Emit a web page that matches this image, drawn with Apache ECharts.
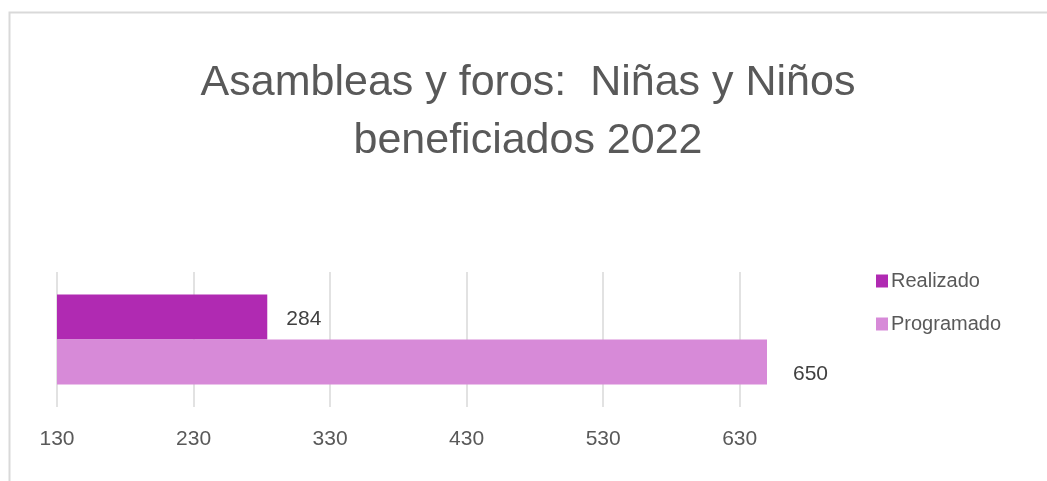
<!DOCTYPE html>
<html>
<head>
<meta charset="utf-8">
<script src="https://cdn.jsdelivr.net/npm/echarts@6/dist/echarts.min.js"></script>
<style>html,body{margin:0;padding:0;background:#fff;}#c{width:1047px;height:481px;}</style>
</head>
<body>
<div id="c"></div>
<script>
const titleText = 'Asambleas y foros:  Niñas y Niños\nbeneficiados 2022';
const categories = ['Niñas y Niños'];
const seriesNames = ['Realizado', 'Programado'];
const realizado = [284];
const programado = [650];
const axisMin = 130;
const axisMax = 650;
const axisInterval = 100;

const chart = echarts.init(document.getElementById('c'), null, {renderer: 'canvas'});
const txt = '#595959';
chart.setOption({
  animation: false,
  backgroundColor: '#fff',
  graphic: [{
    type: 'rect', left: 7, top: 10, silent: true,
    shape: {width: 1100, height: 520},
    style: {fill: 'none', stroke: '#d9d9d9', lineWidth: 2}
  }, {
    type: 'text', x: 528, y: 54, silent: true,
    style: {
      text: titleText, textAlign: 'center', textVerticalAlign: 'top',
      fontFamily: 'Liberation Sans', fontSize: 43, lineHeight: 58, fill: txt
    }
  }],
  legend: {
    data: seriesNames,
    orient: 'vertical', left: 871, top: 266,
    itemWidth: 12, itemHeight: 13, itemGap: 23,
    icon: 'rect',
    textStyle: {fontFamily: 'Liberation Sans', fontSize: 20, color: txt, padding: [0,0,0,-2]}
  },
  grid: {left: 57, right: 280, top: 272, bottom: 74, containLabel: false},
  xAxis: {
    type: 'value', min: axisMin, max: axisMax, interval: axisInterval,
    axisLine: {show: false}, axisTick: {show: false},
    axisLabel: {showMaxLabel: false, margin: 22, color: txt, fontFamily: 'Liberation Sans', fontSize: 21},
    splitLine: {show: true, showMaxLine: false, lineStyle: {color: '#d9d9d9', width: 1.5}}
  },
  yAxis: {
    type: 'category', data: categories,
    axisLine: {show: false}, axisTick: {show: false}, axisLabel: {show: false}
  },
  series: [
    {
      name: 'Realizado', type: 'bar', data: realizado,
      barWidth: 45, barGap: '0%',
      itemStyle: {color: '#B02AB2'},
      label: {show: true, position: 'right', distance: 19, offset: [0, 2], color: '#404040', fontFamily: 'Liberation Sans', fontSize: 21}
    },
    {
      name: 'Programado', type: 'bar', data: programado,
      barWidth: 45, barGap: '0%',
      itemStyle: {color: '#D78AD8'},
      label: {show: true, position: 'right', distance: 26, offset: [0, 12], color: '#404040', fontFamily: 'Liberation Sans', fontSize: 21}
    }
  ]
});
</script>
</body>
</html>
